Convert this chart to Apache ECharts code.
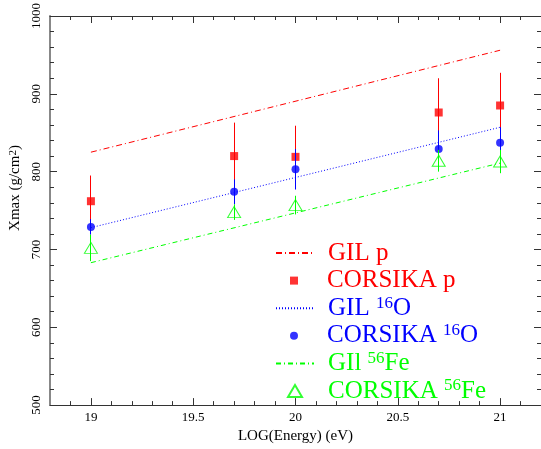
<!DOCTYPE html>
<html>
<head>
<meta charset="utf-8">
<script src="https://cdn.jsdelivr.net/npm/echarts@6/dist/echarts.min.js"></script>
<style>html,body{margin:0;padding:0;background:#fff;}#c{width:541px;height:449px;}</style>
</head>
<body>
<div id="c"></div>
<script>
// ---- data ----
var energies = [19, 19.7, 20, 20.7, 21];
var corsikaP = [762, 820, 819, 876, 885];
var corsikaPErr = [33, 43, 40, 44, 42];
var corsikaO = [729, 774, 803, 829, 837];
var corsikaOErr = [10, 16, 26, 24, 20];
var corsikaFe = [702, 748, 757, 814, 813];
var corsikaFeErr = [17, 10, 12, 14, 15];
var gilEnergies = [19, 21];
var gilP = [825, 956];
var gilO = [728, 857];
var gilFe = [683, 811];
var xMajorTicks = [19, 19.5, 20, 20.5, 21];
var xMinorTicks = [18.9, 19.1, 19.2, 19.3, 19.4, 19.6, 19.7, 19.8, 19.9, 20.1, 20.2, 20.3, 20.4, 20.6, 20.7, 20.8, 20.9, 21.1];
var legendNames = ['GIL p', 'CORSIKA p', 'GIL 16O', 'CORSIKA 16O', 'GIl 56Fe', 'CORSIKA 56Fe'];
var legendLabels = ['GIL p', 'CORSIKA p', 'GIL {sup|16}O', 'CORSIKA {sup|16}O', 'GIl {sup|56}Fe', 'CORSIKA {sup|56}Fe'];

var RED = '#ff0000', BLUE = '#0000ff', GREEN = '#00ff00';
var legendColors = [RED, RED, BLUE, BLUE, GREEN, GREEN];
var SERIF = '"Liberation Serif", "DejaVu Serif", serif';
var ICON_SQUARE = 'path://M0,0h10v10h-10z';
var ICON_CIRCLE = 'path://M5,0A5,5,0,1,1,5,10A5,5,0,1,1,5,0Z';
var ICON_TRI = 'path://M7,0L14,12L0,12Z';
var legendIcons = [null, ICON_SQUARE, null, ICON_CIRCLE, null, ICON_TRI];
// icon box [width, height] per legend row
var legendIconBox = [[38, 8], [8, 8], [38, 8], [8, 8], [38, 8], [14, 12]];

function pairs(xs, ys) { return xs.map(function (x, i) { return [x, ys[i]]; }); }
function triples(xs, ys, es) { return xs.map(function (x, i) { return [x, ys[i], es[i]]; }); }
function errRender(color) {
  return function (params, api) {
    var x = api.value(0), y = api.value(1), e = api.value(2);
    var a = api.coord([x, y + e]);
    var b = api.coord([x, y - e]);
    var px = Math.round(a[0] - 0.5) + 0.5;
    return { type: 'line', shape: { x1: px, y1: a[1], x2: px, y2: b[1] },
      style: { stroke: color, lineWidth: 1 } };
  };
}

var chart = echarts.init(document.getElementById('c'), null, { renderer: 'canvas' });

var tickLine = { color: '#333', width: 1 };
function xAx(pos, ticks, len, showLine, showLabel) {
  return {
    type: 'value', position: pos, min: 18.8, max: 21.2,
    axisLine: { show: showLine, lineStyle: tickLine },
    axisTick: { show: true, inside: true, length: len, customValues: ticks, lineStyle: tickLine },
    axisLabel: { show: showLabel, customValues: ticks, fontFamily: SERIF, fontSize: 13, color: '#000', margin: 6 },
    splitLine: { show: false }
  };
}
var xAxes = [xAx('bottom', xMajorTicks, 7, true, true), xAx('bottom', xMinorTicks, 4, false, false),
             xAx('top', xMajorTicks, 7, true, false), xAx('top', xMinorTicks, 4, false, false)];
xAxes[0].name = 'LOG(Energy) (eV)';
xAxes[0].nameLocation = 'middle';
xAxes[0].nameGap = 20;
xAxes[0].nameTextStyle = { fontFamily: SERIF, fontSize: 15, color: '#000' };

function yAx(pos, showLabel, lineColor, lineWidth) {
  return {
    type: 'value', position: pos, min: 500, max: 1000, interval: 100,
    axisLine: { show: true, lineStyle: { color: lineColor, width: lineWidth } },
    axisTick: { show: true, inside: true, length: 7, lineStyle: tickLine },
    minorTick: { show: true, splitNumber: 5, length: 4, lineStyle: tickLine },
    axisLabel: { show: showLabel, rotate: 90, fontFamily: SERIF, fontSize: 13, color: '#000', margin: 7,
      formatter: function (v) { return String(v); } },
    splitLine: { show: false }
  };
}
var yAxes = [yAx('left', true, '#888', 2), yAx('right', false, 'rgba(0,0,0,0)', 1)];

var ICON_CENTER_X = 294, TEXT_LEFT = 327;
var legends = legendNames.map(function (name, i) {
  var item = { name: name, textStyle: { color: legendColors[i] } };
  if (legendIcons[i]) { item.icon = legendIcons[i]; }
  else { item.itemStyle = { opacity: 0 }; }
  var w = legendIconBox[i][0], h = legendIconBox[i][1];
  var left = ICON_CENTER_X - w / 2;
  var pad = TEXT_LEFT - (left + w + 5);
  return {
    orient: 'vertical', left: left, top: 239.5 + i * 27.6, padding: 0,
    itemWidth: w, itemHeight: h, itemGap: 0,
    symbolKeepAspect: true,
    data: [item],
    selectedMode: false,
    formatter: function () { return legendLabels[i]; },
    textStyle: {
      fontFamily: SERIF, fontSize: 25, lineHeight: 27, padding: [0, 0, 0, pad],
      rich: { sup: { fontFamily: SERIF, fontSize: 17, lineHeight: 12, verticalAlign: 'top' } }
    }
  };
});

var series = [
  { name: 'GIL p', type: 'line', data: pairs(gilEnergies, gilP), symbol: 'none', color: RED,
    lineStyle: { color: RED, width: 1, type: [6, 3, 1, 3] } },
  { name: 'GIL 16O', type: 'line', data: pairs(gilEnergies, gilO), symbol: 'none', color: BLUE,
    lineStyle: { color: BLUE, width: 1, type: [1, 2] } },
  { name: 'GIl 56Fe', type: 'line', data: pairs(gilEnergies, gilFe), symbol: 'none', color: GREEN,
    lineStyle: { color: GREEN, width: 1, type: [5, 3, 1, 3] } },
  { name: 'errP', type: 'custom', renderItem: errRender(RED), data: triples(energies, corsikaP, corsikaPErr), z: 3 },
  { name: 'CORSIKA p', type: 'scatter', data: pairs(energies, corsikaP), symbol: 'rect', symbolSize: 8,
    itemStyle: { color: RED }, z: 4 },
  { name: 'errO', type: 'custom', renderItem: errRender(BLUE), data: triples(energies, corsikaO, corsikaOErr), z: 5 },
  { name: 'CORSIKA 16O', type: 'scatter', data: pairs(energies, corsikaO), symbol: 'circle', symbolSize: 8,
    itemStyle: { color: BLUE }, z: 6 },
  { name: 'errFe', type: 'custom', renderItem: errRender(GREEN), data: triples(energies, corsikaFe, corsikaFeErr), z: 7 },
  { name: 'CORSIKA 56Fe', type: 'scatter', data: pairs(energies, corsikaFe), symbol: 'triangle', symbolSize: [13, 11],
    itemStyle: { color: 'rgba(0,0,0,0)', borderColor: GREEN, borderWidth: 1 }, z: 8 }
];
series.forEach(function (s) { s.xAxisIndex = 0; s.yAxisIndex = 0; s.animation = false; });

chart.setOption({
  backgroundColor: '#fff',
  animation: false,
  grid: { left: 50, right: 0, top: 15, bottom: 41, containLabel: false },
  xAxis: xAxes,
  yAxis: yAxes,
  legend: legends,
  graphic: [{
    type: 'text', x: 15, y: 188, rotation: Math.PI / 2,
    style: {
      text: 'Xmax (g/cm{sup|2})', fill: '#000',
      font: '15px ' + SERIF, align: 'center', verticalAlign: 'middle',
      rich: { sup: { fontFamily: SERIF, fontSize: 11, verticalAlign: 'top', lineHeight: 10 } }
    }
  }],
  series: series
});
</script>
</body>
</html>
